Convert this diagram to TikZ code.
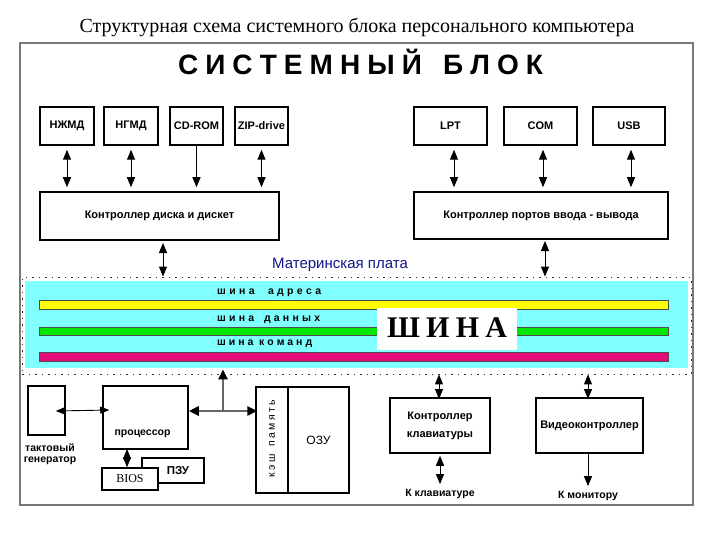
\documentclass[tikz,border=0pt]{standalone}
\usepackage{fontspec}
\setmainfont{Liberation Sans}
\newfontfamily\serif{Liberation Serif}
\usetikzlibrary{arrows.meta}
\definecolor{buscyan}{RGB}{128,255,255}
\definecolor{busyellow}{RGB}{255,255,0}
\definecolor{busgreen}{RGB}{0,230,0}
\definecolor{busmag}{RGB}{228,10,120}
\definecolor{mbblue}{RGB}{20,20,140}
\definecolor{framegray}{RGB}{120,120,120}
\begin{document}
\begin{tikzpicture}[x=1pt,y=-1pt,
  box/.style={draw=black, line width=1.5pt, inner sep=0pt, fill=white,
    font=\bfseries\fontsize{11}{18}\selectfont, align=center},
  lbl/.style={font=\bfseries\fontsize{10.5}{12}\selectfont, inner sep=0pt, align=center},
  bi/.style={line width=1pt, {Triangle[length=10pt,width=8pt]}-{Triangle[length=10pt,width=8pt]}},
  uni/.style={line width=1pt, -{Triangle[length=10pt,width=8pt]}},
  gline/.style={line width=2.6pt, color=gray!80!black, -{Triangle[length=10pt,width=9pt,color=black]}},
  busbar/.style={draw=black!70, line width=0.8pt},
  buslbl/.style={font=\bfseries\fontsize{10.5}{12}\selectfont, inner sep=0pt, anchor=base west}
]
\useasboundingbox (0,0) rectangle (720,540);
\fill[white] (0,0) rectangle (720,540);

% title and frame
\node[font=\serif\fontsize{20}{22}\selectfont, inner sep=0pt, anchor=base] (title) at (357,33)
  {Структурная схема системного блока персонального компьютера};
\node[draw=framegray, line width=1.6pt, minimum width=673, minimum height=462, inner sep=0pt] (frame) at (356.5,274) {};
\node[font=\bfseries\fontsize{28}{30}\selectfont, inner sep=0pt, anchor=base] (head) at (360.5,75)
  {\makebox[365pt][s]{С\hfill И\hfill С\hfill Т\hfill Е\hfill М\hfill Н\hfill Ы\hfill Й\hfill\hfill\hfill Б\hfill Л\hfill О\hfill К}};

% top devices
\node[box, minimum width=54, minimum height=38] (nzhmd) at (67,126) {НЖМД};
\node[box, minimum width=54, minimum height=38] (ngmd) at (131,126) {НГМД};
\node[box, minimum width=53, minimum height=38] (cdrom) at (196.5,126) {CD-ROM};
\node[box, minimum width=53, minimum height=38] (zip) at (261.5,126) {ZIP-drive};
\node[box, minimum width=239, minimum height=48] (dctrl) at (159.5,216) {Контроллер диска и дискет};

\node[box, minimum width=73, minimum height=38] (lpt) at (450.5,126) {LPT};
\node[box, minimum width=73, minimum height=38] (com) at (540.5,126) {COM};
\node[box, minimum width=72, minimum height=38] (usb) at (629,126) {USB};
\node[box, minimum width=254, minimum height=47] (pctrl) at (541,215.5) {Контроллер портов ввода - вывода};

\draw[bi, shorten <=4pt, shorten >=4pt] (nzhmd.south) -- (nzhmd.south |- dctrl.north);
\draw[bi, shorten <=4pt, shorten >=4pt] (ngmd.south) -- (ngmd.south |- dctrl.north);
\draw[uni, shorten >=4pt] (cdrom.south) -- (cdrom.south |- dctrl.north);
\draw[bi, shorten <=4pt, shorten >=4pt] (zip.south) -- (zip.south |- dctrl.north);
\draw[bi, shorten <=4pt, shorten >=4pt] ([xshift=3.5pt]lpt.south) -- ([xshift=3.5pt]lpt.south |- pctrl.north);
\draw[bi, shorten <=4pt, shorten >=4pt] ([xshift=2.5pt]com.south) -- ([xshift=2.5pt]com.south |- pctrl.north);
\draw[bi, shorten <=4pt, shorten >=4pt] ([xshift=2pt]usb.south) -- ([xshift=2pt]usb.south |- pctrl.north);

% motherboard label
\node[font=\fontsize{15}{17}\selectfont, text=mbblue, inner sep=0pt, anchor=base] (mblbl) at (340,268) {Материнская плата};

% bus area
\fill[buscyan] (25,281) rectangle (688,368);
\node[draw=black!80, dash pattern=on 1.5pt off 5pt, line width=0.9pt, minimum width=669, minimum height=97, inner sep=0pt] (mb) at (356.5,325.5) {};
\draw[busbar, fill=busyellow] (39,300) rectangle (668,309);
\draw[busbar, fill=busgreen] (39,327) rectangle (668,335);
\draw[busbar, fill=busmag] (39,352) rectangle (668,361);
\node[buslbl] (addr) at (217,294) {\makebox[104pt][s]{ш\hfill и\hfill н\hfill а\hfill\hfill\hfill\hfill а\hfill д\hfill р\hfill е\hfill с\hfill а}};
\node[buslbl] (data) at (217,321) {\makebox[103pt][s]{ш\hfill и\hfill н\hfill а\hfill\hfill\hfill д\hfill а\hfill н\hfill н\hfill ы\hfill х}};
\node[buslbl] (cmd) at (217,345) {\makebox[95pt][s]{ш\hfill и\hfill н\hfill а\hfill\hfill к\hfill о\hfill м\hfill а\hfill н\hfill д}};
\node[fill=white, minimum width=140, minimum height=42, inner sep=0pt] (shbox) at (447,329) {};
\node[font=\serif\bfseries\fontsize{30}{32}\selectfont, inner sep=0pt, anchor=base] (shina) at (447,337)
  {\makebox[120pt][s]{Ш\hfill И\hfill Н\hfill А}};

\draw[bi, shorten <=3pt] (163,240) coordinate (dc) -- (dc |- mb.north);
\draw[bi, shorten <=2pt] (545,239) coordinate (pc) -- (pc |- mb.north);

% bottom left: clock, processor, BIOS
\node[box, minimum width=37, minimum height=49] (clk) at (46.5,410.5) {};
\node[lbl, align=center] (clklbl) at (50,454) {тактовый\\[-1pt]генератор};
\node[box, minimum width=85, minimum height=63] (proc) at (145.5,417.5) {};
\node[lbl] (proclbl) at (142.5,434) {процессор};
\draw[line width=0.9pt, {Triangle[length=9pt,width=7pt]}-{Triangle[length=9pt,width=7pt]}]
  ([xshift=-10pt,yshift=-0.5pt]clk.east) -- ([xshift=7pt]proc.west |- 0,410);

\node[box, minimum width=62, minimum height=25] (pzu) at (173,470.5) {};
\node[font=\bfseries\fontsize{11.5}{13}\selectfont, inner sep=0pt] (pzulbl) at (178,470.5) {ПЗУ};
\node[box, minimum width=56, minimum height=22, font=\serif\fontsize{12}{13}\selectfont] (bios) at (130,479) {BIOS};
\draw[bi] (127,449) coordinate (pb) -- (pb |- bios.north);

% cache and RAM
\node[box, minimum width=32, minimum height=106] (cache) at (272,440) {};
\node[box, minimum width=61, minimum height=106, font=\fontsize{12}{13}\selectfont] (ozu) at (318.5,440) {ОЗУ};
\node[font=\fontsize{10.5}{12}\selectfont, inner sep=0pt, rotate=90] (cachelbl) at (272,438.5)
  {\makebox[77pt][s]{к\hfill э\hfill ш\hfill\hfill\hfill п\hfill а\hfill м\hfill я\hfill т\hfill ь}};

% processor / bus junction
\coordinate (j) at (223,411);
\draw[gline] (j) -- (proc.east |- j);
\draw[gline, shorten >=-2pt] (j) -- (cache.west |- j);
\draw[gline, shorten >=-5pt] (j) -- (j |- mb.south);

% bottom right: keyboard and video
\node[box, minimum width=100, minimum height=55] (kbd) at (440,425.5) {Контроллер\\клавиатуры};
\node[box, minimum width=107, minimum height=55] (video) at (589.5,425.5) {Видеоконтроллер};
\node[lbl] (kbdlbl) at (440,494) {К клавиатуре};
\node[lbl] (monlbl) at (588,496) {К монитору};

\draw[bi, shorten <=-1pt] (439,398) coordinate (kc) -- (kc |- mb.south);
\draw[bi, shorten <=-1pt] (588,398) coordinate (vc) -- (vc |- mb.south);
\draw[bi, shorten <=2pt, shorten >=5pt] (kbd.south) -- (kbdlbl.north);
\draw[uni, shorten >=5pt] (video.south -| monlbl.north) -- (monlbl.north);
\end{tikzpicture}
\end{document}
